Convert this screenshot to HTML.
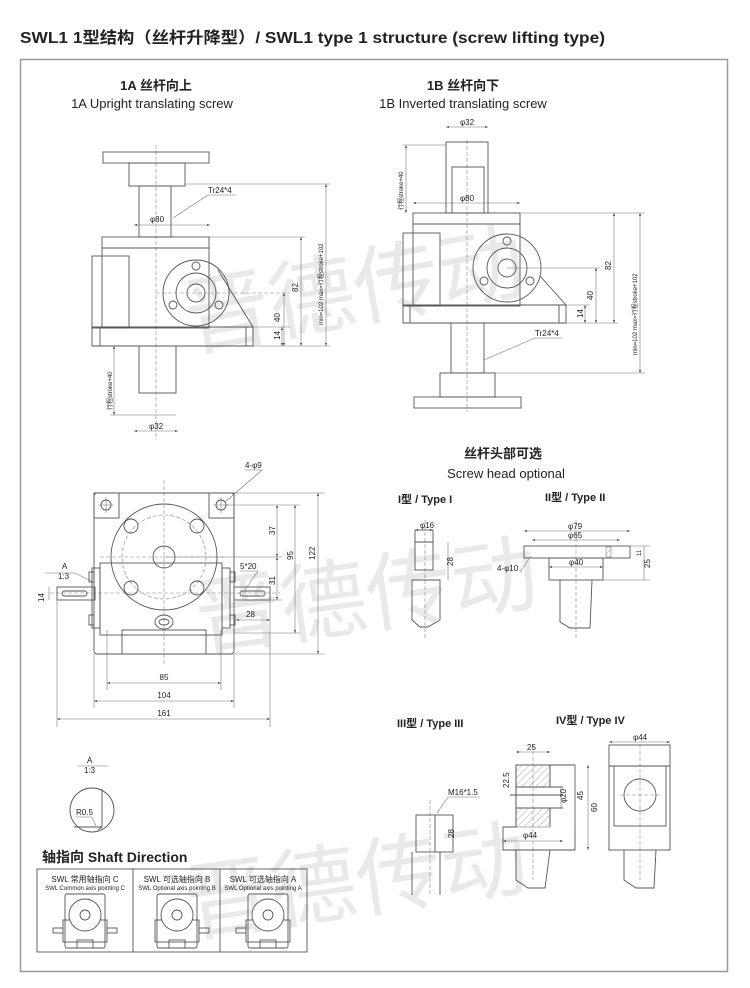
<!DOCTYPE html>
<html><head><meta charset="utf-8">
<style>
html,body{margin:0;padding:0;background:#fff;}
svg{display:block;}
text{font-family:"Liberation Sans","Noto Sans CJK SC",sans-serif;fill:#222;}
.l{stroke:#555;stroke-width:0.9;fill:none;}
.t{stroke:#777;stroke-width:0.6;fill:none;}
.c{stroke:#888;stroke-width:0.6;fill:none;stroke-dasharray:4 2;}
.s{font-size:8px;}
.xs{font-size:6px;}
</style></head><body>
<svg width="750" height="988" viewBox="0 0 750 988" xmlns="http://www.w3.org/2000/svg">
<defs>
<marker id="a" viewBox="0 0 6 6" refX="6" refY="3" markerWidth="5" markerHeight="5" orient="auto-start-reverse"><path d="M0,1 L6,3 L0,5z" fill="#444"/></marker>
<pattern id="h" width="5" height="5" patternUnits="userSpaceOnUse" patternTransform="rotate(45)"><line x1="0" y1="0" x2="0" y2="5" stroke="#888" stroke-width="0.7"/></pattern>
</defs>
<!-- watermark -->
<g font-size="86" font-family="'Noto Serif CJK SC','WenQuanYi Zen Hei',serif">
<text x="190" y="350" transform="rotate(-10 190 350)" style="fill:#e9e9e9">晋德传动</text>
<text x="200" y="650" transform="rotate(-8 200 650)" style="fill:#e9e9e9">晋德传动</text>
<text x="190" y="935" transform="rotate(-8 190 935)" style="fill:#e9e9e9">晋德传动</text>
</g>
<text x="20" y="43" font-size="16" font-weight="bold" textLength="585" lengthAdjust="spacingAndGlyphs">SWL1 1型结构（丝杆升降型）/ SWL1 type 1 structure (screw lifting type)</text>
<rect x="20.5" y="59.5" width="707" height="912" fill="none" stroke="#999" stroke-width="1.5"/>

<text x="156" y="90" font-size="13" font-weight="bold" text-anchor="middle">1A 丝杆向上</text>
<text x="152" y="108" font-size="13" text-anchor="middle">1A Upright translating screw</text>
<text x="463" y="90" font-size="13" font-weight="bold" text-anchor="middle">1B 丝杆向下</text>
<text x="463" y="108" font-size="13" text-anchor="middle">1B Inverted translating screw</text>

<!-- 1A -->
<g>
<line class="c" x1="156" y1="145" x2="156" y2="440"/>
<rect class="l" x="103" y="152" width="106" height="11"/>
<rect class="l" x="129" y="163" width="56" height="23"/>
<rect class="l" x="139" y="186" width="32" height="51"/>
<rect class="l" x="102" y="237" width="107" height="11"/>
<rect class="l" x="102" y="248" width="107" height="80"/>
<rect class="l" x="92" y="256" width="37" height="72"/>
<path class="l" d="M92,327 H253 V346 H92Z M100,327 V346 M246,327 V346"/>
<path class="l" d="M218,270 L253,327"/>
<circle class="l" cx="196" cy="293" r="33"/>
<circle class="l" cx="196" cy="293" r="20"/>
<circle class="l" cx="196" cy="293" r="9"/>
<circle class="l" cx="196" cy="266" r="4"/><circle class="l" cx="173" cy="305" r="4"/><circle class="l" cx="219" cy="305" r="4"/>
<rect class="l" x="139" y="346" width="37" height="47"/>
<line class="c" x1="156" y1="293" x2="290" y2="293"/>
<line class="t" x1="134" y1="225" x2="210" y2="225" marker-start="url(#a)" marker-end="url(#a)"/>
<text class="s" x="157" y="222" text-anchor="middle">φ80</text>
<text class="s" x="208" y="193">Tr24*4</text><path class="t" d="M236,195 H208 L173,218"/>
<line class="t" x1="134" y1="431" x2="178" y2="431" marker-start="url(#a)" marker-end="url(#a)"/>
<text class="s" x="156" y="429" text-anchor="middle">φ32</text>
<line class="t" x1="114" y1="346" x2="114" y2="415" marker-start="url(#a)" marker-end="url(#a)"/>
<text class="xs" transform="translate(112,410) rotate(-90)">行程stroke+40</text>
<path class="t" d="M176,415 H110 M185,184 H330 M209,237 H305 M253,327 H290"/>
<line class="t" x1="282" y1="327" x2="282" y2="346" marker-start="url(#a)" marker-end="url(#a)"/>
<text class="s" transform="translate(280,340) rotate(-90)">14</text>
<line class="t" x1="284" y1="293" x2="284" y2="346" marker-start="url(#a)" marker-end="url(#a)"/>
<text class="s" transform="translate(280,322) rotate(-90)">40</text>
<line class="t" x1="301" y1="237" x2="301" y2="346" marker-start="url(#a)" marker-end="url(#a)"/>
<text class="s" transform="translate(298,292) rotate(-90)">82</text>
<line class="t" x1="326" y1="184" x2="326" y2="346" marker-start="url(#a)" marker-end="url(#a)"/>
<text class="xs" transform="translate(323,325) rotate(-90)">min=102 max=行程stroke+102</text>
<path class="t" d="M253,346 H330"/>
</g>

<!-- 1B -->
<g>
<line class="c" x1="467" y1="140" x2="467" y2="412"/>
<rect class="l" x="446" y="142" width="42" height="71"/>
<rect class="l" x="452" y="167" width="32" height="46"/>
<line class="t" x1="446" y1="127" x2="488" y2="127" marker-start="url(#a)" marker-end="url(#a)"/>
<text class="s" x="467" y="125" text-anchor="middle">φ32</text>
<line class="t" x1="406" y1="145" x2="406" y2="213" marker-start="url(#a)" marker-end="url(#a)"/>
<text class="xs" transform="translate(403,210) rotate(-90)">行程stroke+40</text>
<path class="t" d="M403,145 H446"/>
<line class="t" x1="413" y1="203" x2="520" y2="203" marker-start="url(#a)" marker-end="url(#a)"/>
<text class="s" x="467" y="201" text-anchor="middle">φ80</text>
<rect class="l" x="413" y="213" width="107" height="11"/>
<rect class="l" x="413" y="224" width="107" height="82"/>
<rect class="l" x="403" y="233" width="37" height="73"/>
<path class="l" d="M403,305 H566 V323 H403Z M410,305 V323 M559,305 V323"/>
<path class="l" d="M540,276 L566,305"/>
<circle class="l" cx="507" cy="268" r="34"/>
<circle class="l" cx="507" cy="268" r="20"/>
<circle class="l" cx="507" cy="268" r="9"/>
<circle class="l" cx="507" cy="241" r="4"/><circle class="l" cx="484" cy="281" r="4"/><circle class="l" cx="530" cy="281" r="4"/>
<rect class="l" x="451" y="323" width="33" height="50"/>
<rect class="l" x="440" y="373" width="55" height="24"/>
<rect class="l" x="414" y="397" width="107" height="11"/>
<text class="s" x="535" y="336">Tr24*4</text><path class="t" d="M563,338 H535 L484,360"/>
<path class="t" d="M520,213 H645 M507,268 H600 M566,305 H590 M566,323 H618 M495,373 H645"/>
<line class="t" x1="585" y1="305" x2="585" y2="323" marker-start="url(#a)" marker-end="url(#a)"/>
<text class="s" transform="translate(583,318) rotate(-90)">14</text>
<line class="t" x1="596" y1="268" x2="596" y2="323" marker-start="url(#a)" marker-end="url(#a)"/>
<text class="s" transform="translate(593,300) rotate(-90)">40</text>
<line class="t" x1="614" y1="213" x2="614" y2="323" marker-start="url(#a)" marker-end="url(#a)"/>
<text class="s" transform="translate(611,270) rotate(-90)">82</text>
<line class="t" x1="640" y1="213" x2="640" y2="373" marker-start="url(#a)" marker-end="url(#a)"/>
<text class="xs" transform="translate(637,355) rotate(-90)">min=102 max=行程stroke+102</text>
</g>

<!-- bottom view -->
<g>
<line class="c" x1="164" y1="480" x2="164" y2="665"/>
<line class="c" x1="50" y1="593" x2="280" y2="593"/>
<line class="c" x1="100" y1="557" x2="225" y2="557"/>
<rect class="l" x="94" y="493" width="140" height="161" rx="3"/>
<rect class="l" x="94" y="493" width="25" height="25"/><rect class="l" x="209" y="493" width="25" height="25"/>
<circle class="l" cx="106" cy="505" r="5"/><circle class="l" cx="221" cy="505" r="5"/>
<path class="t" d="M106,497 V513 M98,505 H114 M221,497 V513 M213,505 H229"/>
<rect class="l" x="100" y="563" width="122" height="72"/>
<circle class="l" cx="164" cy="557" r="53" fill="#fff"/>
<circle class="c" cx="164" cy="557" r="42"/>
<circle class="l" cx="164" cy="557" r="11"/>
<circle class="l" cx="131" cy="526" r="7"/><circle class="l" cx="197" cy="526" r="7"/>
<circle class="l" cx="131" cy="588" r="7"/><circle class="l" cx="197" cy="588" r="7"/>
<rect class="l" x="122" y="630" width="84" height="24"/>
<ellipse class="l" cx="164" cy="622" rx="9" ry="7"/><ellipse class="l" cx="164" cy="622" rx="5" ry="3"/>
<rect class="l" x="57" y="587" width="38" height="13"/><rect class="l" x="62" y="591" width="25" height="5" rx="2.5"/>
<rect class="l" x="234" y="587" width="36" height="13"/><rect class="l" x="240" y="591" width="25" height="5" rx="2.5"/>
<rect class="l" x="92" y="568" width="8" height="60"/><rect class="l" x="222" y="568" width="8" height="60"/>
<rect class="l" x="230" y="572" width="5" height="10"/><rect class="l" x="230" y="615" width="5" height="10"/>
<rect class="l" x="89" y="572" width="5" height="10"/><rect class="l" x="89" y="615" width="5" height="10"/>
<path class="t" d="M107,630 V690 M221,630 V690 M94,654 V708 M234,654 V708 M57,600 V727 M270,600 V727"/>
<line class="t" x1="107" y1="683" x2="221" y2="683" marker-start="url(#a)" marker-end="url(#a)"/><text class="s" x="164" y="680" text-anchor="middle">85</text>
<line class="t" x1="94" y1="701" x2="234" y2="701" marker-start="url(#a)" marker-end="url(#a)"/><text class="s" x="164" y="698" text-anchor="middle">104</text>
<line class="t" x1="57" y1="719" x2="270" y2="719" marker-start="url(#a)" marker-end="url(#a)"/><text class="s" x="164" y="716" text-anchor="middle">161</text>
<path class="t" d="M225,505 H300 M164,557 H282 M234,493 H325 M234,654 H325 M234,633 H300 M270,600 H282"/>
<line class="t" x1="277" y1="505" x2="277" y2="557" marker-start="url(#a)" marker-end="url(#a)"/><text class="s" transform="translate(275,535) rotate(-90)">37</text>
<line class="t" x1="277" y1="557" x2="277" y2="600" marker-start="url(#a)" marker-end="url(#a)"/><text class="s" transform="translate(275,585) rotate(-90)">31</text>
<line class="t" x1="295" y1="505" x2="295" y2="633" marker-start="url(#a)" marker-end="url(#a)"/><text class="s" transform="translate(293,560) rotate(-90)">95</text>
<line class="t" x1="318" y1="493" x2="318" y2="654" marker-start="url(#a)" marker-end="url(#a)"/><text class="s" transform="translate(315,560) rotate(-90)">122</text>
<line class="t" x1="236" y1="620" x2="270" y2="620" marker-start="url(#a)" marker-end="url(#a)"/><text class="s" x="246" y="617">28</text>
<text class="s" x="240" y="569">5*20</text><path class="t" d="M240,571 H258 L245,590"/>
<text class="s" x="245" y="468">4-φ9</text><path class="t" d="M245,470 H262 L225,502"/>
<text class="s" x="62" y="569">A</text><text class="s" x="58" y="579">1:3</text><path class="t" d="M45,573 H75 L93,582"/>
<line class="t" x1="49" y1="587" x2="49" y2="600"/><text class="s" transform="translate(44,602) rotate(-90)">14</text>
</g>

<!-- detail A -->
<text class="s" x="87" y="763">A</text><text class="s" x="84" y="773">1:3</text><line class="t" x1="77" y1="766" x2="108" y2="766"/>
<circle class="l" cx="92" cy="810" r="22"/>
<path class="l" d="M102,789 V827 H74 M102,827 L98,830"/>
<text class="s" x="76" y="815">R0.5</text><path class="t" d="M76,817 H92 L96,826"/>

<!-- shaft direction -->
<text x="42" y="862" font-size="14" font-weight="bold">轴指向 Shaft Direction</text>
<rect class="l" x="37" y="869" width="270" height="83"/>
<line class="l" x1="133" y1="869" x2="133" y2="952"/><line class="l" x1="220" y1="869" x2="220" y2="952"/>
<text class="s" x="85" y="882" text-anchor="middle">SWL 常用轴指向 C</text>
<text class="xs" x="85" y="890" text-anchor="middle" font-size="5.5">SWL Common axis pointing C</text>
<text class="s" x="177" y="882" text-anchor="middle">SWL 可选轴指向 B</text>
<text class="xs" x="177" y="890" text-anchor="middle" font-size="5.5">SWL Optional axis pointing B</text>
<text class="s" x="263" y="882" text-anchor="middle">SWL 可选轴指向 A</text>
<text class="xs" x="263" y="890" text-anchor="middle" font-size="5.5">SWL Optional axis pointing A</text>
<g class="l">
<g transform="translate(85,0)"><rect x="-20" y="894" width="40" height="54" rx="2"/><rect x="-22" y="920" width="44" height="22"/><circle cx="0" cy="915" r="16" fill="#fff"/><circle cx="0" cy="915" r="5"/><rect x="-32" y="928" width="10" height="5"/><rect x="22" y="928" width="10" height="5"/><rect x="-8" y="940" width="16" height="8"/></g>
<g transform="translate(177,0)"><rect x="-20" y="894" width="40" height="54" rx="2"/><rect x="-22" y="920" width="44" height="22"/><circle cx="0" cy="915" r="16" fill="#fff"/><circle cx="0" cy="915" r="5"/><rect x="22" y="928" width="10" height="5"/><rect x="-8" y="940" width="16" height="8"/></g>
<g transform="translate(268,0)"><rect x="-20" y="894" width="40" height="54" rx="2"/><rect x="-22" y="920" width="44" height="22"/><circle cx="0" cy="915" r="16" fill="#fff"/><circle cx="0" cy="915" r="5"/><rect x="-32" y="928" width="10" height="5"/><rect x="-8" y="940" width="16" height="8"/></g>
</g>

<!-- screw head optional -->
<text x="503" y="458" font-size="13" font-weight="bold" text-anchor="middle">丝杆头部可选</text>
<text x="506" y="478" font-size="13" text-anchor="middle">Screw head optional</text>
<text x="398" y="503" font-size="11" font-weight="bold" font-family="'Liberation Serif','Noto Serif CJK SC',serif">I型 / Type I</text>
<text x="545" y="501" font-size="11" font-weight="bold" font-family="'Liberation Serif','Noto Serif CJK SC',serif">II型 / Type II</text>
<text x="397" y="727" font-size="11" font-weight="bold" font-family="'Liberation Serif','Noto Serif CJK SC',serif">III型 / Type III</text>
<text x="556" y="724" font-size="11" font-weight="bold" font-family="'Liberation Serif','Noto Serif CJK SC',serif">IV型 / Type IV</text>

<!-- type I -->
<line class="c" x1="425" y1="520" x2="425" y2="640"/>
<rect class="l" x="415" y="530" width="18" height="40"/>
<path class="l" d="M415,542 H433 M412,580 H440 V620 L428,627 H420 L412,620Z"/>
<line class="t" x1="415" y1="530" x2="433" y2="530" marker-start="url(#a)" marker-end="url(#a)"/><text class="s" x="420" y="528">φ16</text>
<line class="t" x1="448" y1="542" x2="448" y2="580"/><text class="s" transform="translate(453,566) rotate(-90)">28</text>

<!-- type II -->
<line class="c" x1="576" y1="520" x2="576" y2="640"/>
<rect class="l" x="524" y="546" width="106" height="12"/>
<rect class="l" x="549" y="558" width="54" height="22"/>
<path class="l" d="M560,580 V622 L570,628 H590 L592,580"/>
<rect x="606" y="547" width="5" height="10" fill="url(#h)" stroke="#666" stroke-width="0.5"/>
<line class="t" x1="524" y1="531" x2="630" y2="531" marker-start="url(#a)" marker-end="url(#a)"/><text class="s" x="568" y="529">φ79</text>
<line class="t" x1="532" y1="540" x2="620" y2="540" marker-start="url(#a)" marker-end="url(#a)"/><text class="s" x="568" y="538">φ65</text>
<line class="t" x1="549" y1="567" x2="603" y2="567" marker-start="url(#a)" marker-end="url(#a)"/><text class="s" x="569" y="565">φ40</text>
<text class="s" x="497" y="571">4-φ10</text><path class="t" d="M520,572 L531,556"/>
<path class="t" d="M630,546 H650 M603,580 H650"/>
<line class="t" x1="644" y1="546" x2="644" y2="580"/><text class="s" transform="translate(650,568) rotate(-90)">25</text>
<text class="xs" transform="translate(641,556) rotate(-90)">11</text>

<!-- type III -->
<line class="c" x1="430" y1="800" x2="430" y2="895"/>
<rect class="l" x="416" y="815" width="37" height="37"/><line class="l" x1="435" y1="815" x2="435" y2="852"/>
<path class="l" d="M412,852 V895 M440,852 V895"/>
<text class="s" x="448" y="795">M16*1.5</text><path class="t" d="M480,797 H448 L437,813"/>
<text class="s" transform="translate(454,838) rotate(-90)">28</text>

<!-- type IV a -->
<line class="c" x1="533" y1="745" x2="533" y2="880"/>
<path class="l" d="M516,765 H575 V850 H503 V827 H516Z"/>
<rect x="516" y="765" width="34" height="22" fill="url(#h)" stroke="#666" stroke-width="0.5"/>
<rect x="516" y="808" width="34" height="19" fill="url(#h)" stroke="#666" stroke-width="0.5"/>
<path class="l" d="M516,765 V827 M550,765 V787 M550,808 V827 M510,795 H563 M516,787 H563 M516,808 H563"/>
<path class="l" d="M516,850 V880 L528,888 H545 L550,850"/>
<line class="t" x1="516" y1="752" x2="550" y2="752" marker-start="url(#a)" marker-end="url(#a)"/><text class="s" x="527" y="750">25</text>
<line class="t" x1="503" y1="841" x2="563" y2="841" marker-start="url(#a)" marker-end="url(#a)"/><text class="s" x="523" y="838">φ44</text>
<line class="t" x1="561" y1="787" x2="561" y2="808"/><text class="s" transform="translate(566,803) rotate(-90)">φ20</text>
<line class="t" x1="575" y1="765" x2="575" y2="827"/><text class="s" transform="translate(583,800) rotate(-90)">45</text>
<line class="t" x1="588" y1="765" x2="588" y2="850" marker-start="url(#a)" marker-end="url(#a)"/><text class="s" transform="translate(597,812) rotate(-90)">60</text>
<text class="s" transform="translate(509,788) rotate(-90)">22.5</text>

<!-- type IV b -->
<line class="c" x1="640" y1="745" x2="640" y2="880"/>
<rect class="l" x="609" y="745" width="61" height="105"/>
<line class="l" x1="609" y1="766" x2="670" y2="766"/>
<rect class="l" x="614" y="766" width="52" height="60"/>
<circle class="l" cx="640" cy="795" r="16"/>
<line class="c" x1="620" y1="795" x2="660" y2="795"/>
<path class="l" d="M624,850 V880 L636,888 H654 L656,850"/>
<line class="t" x1="609" y1="742" x2="670" y2="742" marker-start="url(#a)" marker-end="url(#a)"/><text class="s" x="633" y="740">φ44</text>
</svg>
</body></html>
